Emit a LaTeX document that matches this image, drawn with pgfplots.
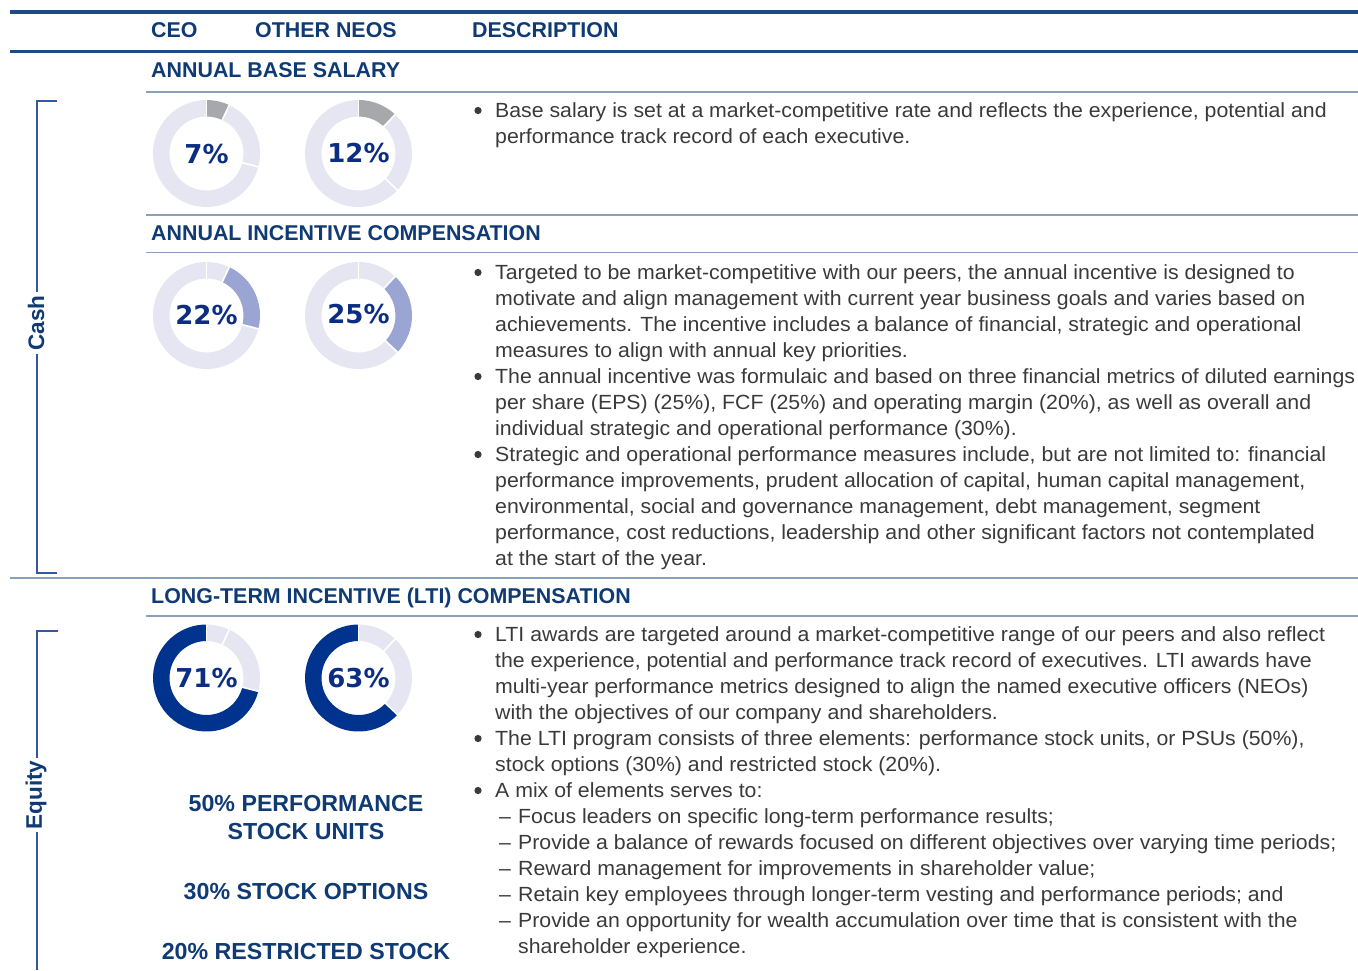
\documentclass[border=0pt]{standalone}
\usepackage{pgfplots}
\pgfplotsset{compat=1.18}
\usepackage{fontspec}
\setmainfont{Liberation Sans}
\newfontfamily\bodyfont[FakeStretch=1.038]{Liberation Sans}
\newfontfamily\pctfont{DejaVu Sans}
\definecolor{headnavy}{HTML}{0F3A73}
\definecolor{rulenavy}{HTML}{1F4A85}
\definecolor{thinrule}{HTML}{8A9EBE}
\definecolor{bracket}{HTML}{3358A0}
\definecolor{pctnavy}{HTML}{0B2D82}
\definecolor{donutnavy}{HTML}{00338D}
\definecolor{midblue}{HTML}{9BA5D3}
\definecolor{lightlav}{HTML}{E6E6F2}
\definecolor{segrey}{HTML}{A7A8AB}
\definecolor{bodytxt}{HTML}{3A3A3A}
\tikzset{
  body/.style={anchor=base west, inner sep=0pt, font=\bodyfont\fontsize{20.5}{26}\selectfont, text=bodytxt},
  head/.style={anchor=base west, inner sep=0pt, font=\fontsize{21.4}{25}\selectfont\bfseries, text=headnavy},
  stock/.style={anchor=base, inner sep=0pt, font=\fontsize{23.2}{27}\selectfont\bfseries, text=headnavy},
  pct/.style={anchor=center, inner sep=0pt, font=\pctfont\fontsize{26}{30}\selectfont\bfseries, text=pctnavy},
  side/.style={rotate=90, anchor=center, inner sep=3pt, fill=white, font=\fontsize{22.5}{26}\selectfont\bfseries, text=headnavy}
}
% donut segment: cx, cy, from %, to %, colour
\newcommand{\seg}[5]{\draw[line width=16.5pt,#5] (axis cs:#1,#2) ++({90-3.6*(#3)}:45.25pt) arc[start angle={90-3.6*(#3)}, end angle={90-3.6*(#4)}, radius=45.25pt];}
\newcommand{\sep}[3]{\draw[white,line width=1.6pt] (axis cs:#1,#2) ++({90-3.6*(#3)}:36pt) -- ++({90-3.6*(#3)}:19pt);}
\newcommand{\bul}[1]{\fill[bodytxt] (axis cs:478,#1-6.5) circle[radius=3.6pt];}
\newcommand{\tl}[2]{\node[body] at (axis cs:495,#1) {#2};}
\newcommand{\dl}[2]{\node[body] at (axis cs:499,#1) {–}; \node[body] at (axis cs:518,#1) {#2};}
\begin{document}
\begin{tikzpicture}
\begin{axis}[x=1pt, y=1pt, hide axis, xmin=0, xmax=1358, ymin=0, ymax=970, y dir=reverse, clip=false, scale only axis]
% rules
\draw[rulenavy, line width=3.5pt] (axis cs:10,12) -- (axis cs:1358,12);
\draw[rulenavy, line width=3.5pt] (axis cs:10,51.5) -- (axis cs:1358,51.5);
\draw[thinrule, line width=1.5pt] (axis cs:146,92) -- (axis cs:1358,92);
\draw[thinrule, line width=1.5pt] (axis cs:146,215) -- (axis cs:1358,215);
\draw[thinrule, line width=1.5pt] (axis cs:146,252.5) -- (axis cs:1358,252.5);
\draw[thinrule, line width=2.5pt] (axis cs:10,578) -- (axis cs:1358,578);
\draw[thinrule, line width=1.5pt] (axis cs:146,616) -- (axis cs:1358,616);
% brackets
\draw[bracket, line width=1.4pt] (axis cs:57,101) -- (axis cs:37,101) -- (axis cs:37,573) -- (axis cs:57,573);
\draw[bracket, line width=1.4pt] (axis cs:58,631) -- (axis cs:37,631) -- (axis cs:37,970);
\node[side] at (axis cs:36,323) {Cash};
\node[side] at (axis cs:36,795) {Equity};
% header
\node[head] at (axis cs:151,37.5) {CEO};
\node[head] at (axis cs:255,37.5) {OTHER NEOS};
\node[head] at (axis cs:472,37.5) {DESCRIPTION};
\node[head] at (axis cs:151,77.5) {ANNUAL BASE SALARY};
\node[head] at (axis cs:151,240.5) {ANNUAL INCENTIVE COMPENSATION};
\node[head] at (axis cs:151,603.5) {LONG-TERM INCENTIVE (LTI) COMPENSATION};
% donuts: pay mix CEO 7 / 22 / 71, other NEOs 12 / 25 / 63
% row 1: base salary
\seg{206.5}{153.5}{0}{7}{segrey} \seg{206.5}{153.5}{7}{29}{lightlav} \seg{206.5}{153.5}{29}{100}{lightlav}
\sep{206.5}{153.5}{0} \sep{206.5}{153.5}{7} \sep{206.5}{153.5}{29}
\seg{358.5}{153.5}{0}{12}{segrey} \seg{358.5}{153.5}{12}{37}{lightlav} \seg{358.5}{153.5}{37}{100}{lightlav}
\sep{358.5}{153.5}{0} \sep{358.5}{153.5}{12} \sep{358.5}{153.5}{37}
% row 2: annual incentive
\seg{206.5}{315.5}{0}{7}{lightlav} \seg{206.5}{315.5}{7}{29}{midblue} \seg{206.5}{315.5}{29}{100}{lightlav}
\sep{206.5}{315.5}{0} \sep{206.5}{315.5}{7} \sep{206.5}{315.5}{29}
\seg{358.5}{315.5}{0}{12}{lightlav} \seg{358.5}{315.5}{12}{37}{midblue} \seg{358.5}{315.5}{37}{100}{lightlav}
\sep{358.5}{315.5}{0} \sep{358.5}{315.5}{12} \sep{358.5}{315.5}{37}
% row 3: LTI
\seg{206.5}{678}{0}{7}{lightlav} \seg{206.5}{678}{7}{29}{lightlav} \seg{206.5}{678}{29}{100}{donutnavy}
\sep{206.5}{678}{0} \sep{206.5}{678}{7} \sep{206.5}{678}{29}
\seg{358.5}{678}{0}{12}{lightlav} \seg{358.5}{678}{12}{37}{lightlav} \seg{358.5}{678}{37}{100}{donutnavy}
\sep{358.5}{678}{0} \sep{358.5}{678}{12} \sep{358.5}{678}{37}
% percent labels
\node[pct] at (axis cs:206.5,154) {7\%};
\node[pct] at (axis cs:358.5,153) {12\%};
\node[pct] at (axis cs:206.5,315) {22\%};
\node[pct] at (axis cs:358.5,314) {25\%};
\node[pct] at (axis cs:206.5,678) {71\%};
\node[pct] at (axis cs:358.5,678) {63\%};
% LTI mix
\node[stock] at (axis cs:306,811) {50\% PERFORMANCE};
\node[stock] at (axis cs:306,839) {STOCK UNITS};
\node[stock] at (axis cs:306,899) {30\% STOCK OPTIONS};
\node[stock] at (axis cs:306,959) {20\% RESTRICTED STOCK};
% description: base salary
\bul{117}
\tl{117}{Base salary is set at a market-competitive rate and reflects the experience, potential and}
\tl{143}{performance track record of each executive.}
% description: annual incentive
\bul{279}
\tl{279}{Targeted to be market-competitive with our peers, the annual incentive is designed to}
\tl{305}{motivate and align management with current year business goals and varies based on}
\tl{331}{achievements. The incentive includes a balance of financial, strategic and operational}
\tl{357}{measures to align with annual key priorities.}
\bul{383}
\tl{383}{The annual incentive was formulaic and based on three financial metrics of diluted earnings}
\tl{409}{per share (EPS) (25\%), FCF (25\%) and operating margin (20\%), as well as overall and}
\tl{435}{individual strategic and operational performance (30\%).}
\bul{461}
\tl{461}{Strategic and operational performance measures include, but are not limited to: financial}
\tl{487}{performance improvements, prudent allocation of capital, human capital management,}
\tl{513}{environmental, social and governance management, debt management, segment}
\tl{539}{performance, cost reductions, leadership and other significant factors not contemplated}
\tl{565}{at the start of the year.}
% description: LTI
\bul{641}
\tl{641}{LTI awards are targeted around a market-competitive range of our peers and also reflect}
\tl{667}{the experience, potential and performance track record of executives. LTI awards have}
\tl{693}{multi-year performance metrics designed to align the named executive officers (NEOs)}
\tl{719}{with the objectives of our company and shareholders.}
\bul{745}
\tl{745}{The LTI program consists of three elements: performance stock units, or PSUs (50\%),}
\tl{771}{stock options (30\%) and restricted stock (20\%).}
\bul{797}
\tl{797}{A mix of elements serves to:}
\dl{823}{Focus leaders on specific long-term performance results;}
\dl{849}{Provide a balance of rewards focused on different objectives over varying time periods;}
\dl{875}{Reward management for improvements in shareholder value;}
\dl{901}{Retain key employees through longer-term vesting and performance periods; and}
\dl{927}{Provide an opportunity for wealth accumulation over time that is consistent with the}
\node[body] at (axis cs:518,953) {shareholder experience.};
\end{axis}
\pgfresetboundingbox
\useasboundingbox (current axis.south west) rectangle (current axis.north east);
\end{tikzpicture}
\end{document}
